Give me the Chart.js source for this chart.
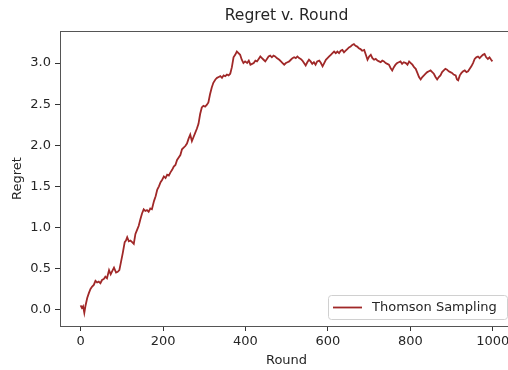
<!DOCTYPE html>
<html>
<head>
<meta charset="utf-8">
<script src="https://cdn.jsdelivr.net/npm/chart.js@4"></script>
<style>
  html, body { margin: 0; padding: 0; overflow: hidden; background: #fff; }
  #wrap { width: 520px; height: 370px; }
</style>
</head>
<body>
<div id="wrap"><canvas id="regretChart" width="520" height="370"></canvas></div>
<script>
// values
const rounds = [
  0, 3, 6, 9, 12, 16, 20, 24, 28, 32, 36, 40, 44, 48, 52, 56, 60, 64, 69, 73,
  77, 81, 86, 90, 94, 98, 102, 107, 110, 113, 117, 121, 125, 129, 133, 137, 141, 145, 149, 153,
  157, 161, 165, 169, 173, 178, 182, 186, 190, 194, 198, 202, 206, 210, 214, 218, 222, 226, 230, 234,
  238, 242, 246, 250, 254, 258, 262, 266, 270, 274, 278, 282, 286, 290, 294, 298, 302, 306, 310, 314,
  318, 322, 327, 331, 335, 339, 343, 347, 351, 355, 359, 363, 367, 371, 375, 379, 383, 387, 391, 395,
  399, 404, 408, 412, 416, 420, 424, 428, 432, 436, 440, 444, 448, 452, 456, 460, 464, 468, 472, 476,
  482, 486, 490, 494, 498, 502, 506, 510, 514, 518, 522, 526, 530, 534, 538, 542, 546, 550, 554, 558,
  562, 566, 570, 574, 579, 583, 587, 591, 595, 599, 603, 607, 611, 615, 619, 623, 627, 631, 635, 639,
  643, 647, 651, 655, 659, 663, 667, 671, 675, 679, 683, 688, 692, 696, 700, 704, 708, 712, 716, 720,
  724, 728, 732, 736, 740, 744, 748, 752, 756, 760, 764, 768, 772, 776, 780, 784, 789, 793, 797, 801,
  805, 809, 813, 817, 821, 825, 829, 833, 837, 841, 845, 849, 853, 857, 861, 865, 869, 873, 877, 881,
  885, 889, 893, 897, 901, 905, 910, 913, 916, 920, 924, 928, 932, 936, 940, 944, 948, 952, 956, 960,
  964, 968, 972, 976, 980, 984, 988, 992, 996, 999
];
const regret = [
  0.05, 0.02, 0.04, -0.04, 0.05, 0.14, 0.20, 0.25, 0.28, 0.30, 0.35, 0.33, 0.34, 0.32, 0.36, 0.37, 0.40, 0.38, 0.48, 0.43,
  0.47, 0.51, 0.45, 0.46, 0.48, 0.58, 0.68, 0.82, 0.84, 0.88, 0.83, 0.84, 0.82, 0.80, 0.92, 0.97, 1.02, 1.10, 1.17, 1.22,
  1.20, 1.21, 1.19, 1.23, 1.22, 1.32, 1.38, 1.46, 1.50, 1.55, 1.58, 1.62, 1.60, 1.64, 1.63, 1.67, 1.70, 1.74, 1.76, 1.82,
  1.85, 1.88, 1.95, 1.97, 1.99, 2.02, 2.08, 2.13, 2.05, 2.10, 2.15, 2.20, 2.26, 2.38, 2.46, 2.48, 2.47, 2.49, 2.52, 2.62,
  2.70, 2.76, 2.80, 2.82, 2.83, 2.84, 2.82, 2.85, 2.84, 2.86, 2.85, 2.87, 2.95, 3.07, 3.10, 3.14, 3.12, 3.10, 3.04, 3.00,
  3.02, 3.00, 3.03, 2.98, 2.99, 3.00, 3.03, 3.02, 3.05, 3.08, 3.06, 3.04, 3.02, 3.05, 3.08, 3.09, 3.07, 3.09, 3.08, 3.06,
  3.04, 3.02, 3.00, 2.98, 3.00, 3.01, 3.02, 3.04, 3.06, 3.07, 3.06, 3.08, 3.06, 3.05, 3.03, 3.00, 2.97, 3.01, 3.04, 3.02,
  2.99, 3.01, 2.98, 3.02, 3.03, 3.00, 2.96, 3.00, 3.04, 3.06, 3.08, 3.10, 3.12, 3.14, 3.12, 3.14, 3.12, 3.15, 3.16, 3.13,
  3.15, 3.17, 3.19, 3.20, 3.22, 3.23, 3.21, 3.20, 3.18, 3.17, 3.15, 3.16, 3.10, 3.04, 3.08, 3.10, 3.06, 3.04, 3.05, 3.03,
  3.02, 3.01, 3.03, 3.02, 3.00, 2.99, 2.98, 2.94, 2.91, 2.95, 2.98, 3.00, 3.01, 3.02, 2.99, 3.01, 3.00, 2.98, 3.02, 3.00,
  2.98, 2.95, 2.93, 2.88, 2.83, 2.80, 2.83, 2.85, 2.87, 2.89, 2.90, 2.91, 2.89, 2.87, 2.83, 2.80, 2.83, 2.85, 2.89, 2.91,
  2.93, 2.92, 2.90, 2.89, 2.88, 2.86, 2.85, 2.80, 2.79, 2.85, 2.88, 2.90, 2.91, 2.89, 2.90, 2.93, 2.96, 3.00, 3.05, 3.07,
  3.08, 3.06, 3.08, 3.10, 3.11, 3.07, 3.05, 3.07, 3.04, 3.02
];
const xTicks = [0, 200, 400, 600, 800, 1000];
const yTicks = [0.0, 0.5, 1.0, 1.5, 2.0, 2.5, 3.0];

const FONT = "'DejaVu Sans', sans-serif";
const TEXT = '#262626';
const SPINE = '#555';

// matplotlib-like frame, title and in-axes legend
const framePlugin = {
  id: 'frame',
  afterDraw(chart) {
    const { ctx, chartArea: a } = chart;
    ctx.save();
    ctx.strokeStyle = SPINE;
    ctx.lineWidth = 1;
    ctx.beginPath();
    ctx.moveTo(a.left, a.top + 0.5);
    ctx.lineTo(a.right, a.top + 0.5);
    ctx.lineTo(a.right, a.bottom);
    ctx.stroke();

    ctx.fillStyle = TEXT;
    ctx.font = `15.6px ${FONT}`;
    ctx.textAlign = 'center';
    ctx.textBaseline = 'middle';
    ctx.fillText('Regret v. Round', (a.left + a.right) / 2, 16);

    // legend box
    const ds = chart.data.datasets[0];
    const bx = 328, by = 295, bw = 179, bh = 24, r = 3;
    ctx.beginPath();
    ctx.roundRect(bx + 0.5, by + 0.5, bw, bh, r);
    ctx.fillStyle = 'rgba(255,255,255,0.8)';
    ctx.fill();
    ctx.strokeStyle = '#d0d0d0';
    ctx.stroke();
    ctx.strokeStyle = ds.borderColor;
    ctx.lineWidth = 1.8;
    ctx.beginPath();
    ctx.moveTo(333, by + 12.5);
    ctx.lineTo(362, by + 12.5);
    ctx.stroke();
    ctx.fillStyle = TEXT;
    ctx.font = `13px ${FONT}`;
    ctx.textAlign = 'left';
    ctx.fillText(ds.label, 372, by + 12.5);
    ctx.restore();
  }
};

new Chart(document.getElementById('regretChart'), {
  type: 'line',
  data: {
    datasets: [{
      label: 'Thomson Sampling',
      data: rounds.map((r, i) => ({ x: r, y: regret[i] })),
      borderColor: '#a02828',
      borderWidth: 1.8,
      pointRadius: 0,
      tension: 0,
      fill: false
    }]
  },
  options: {
    responsive: false,
    animation: false,
    layout: { padding: { top: 31, right: 7, left: 0, bottom: 0 } },
    plugins: {
      legend: { display: false },
      title: { display: false },
      tooltip: { enabled: false }
    },
    scales: {
      x: {
        type: 'linear',
        min: -50,
        max: 1049,
        afterFit: s => { s.height = 44; },
        afterBuildTicks: s => { s.ticks = xTicks.map(v => ({ value: v })); },
        grid: { drawOnChartArea: false, tickLength: 5, tickColor: '#333' },
        border: { color: SPINE, width: 1 },
        ticks: { color: TEXT, font: { family: FONT, size: 13 }, padding: 3, maxRotation: 0, callback: v => String(v) },
        title: { display: true, text: 'Round', color: TEXT, font: { family: FONT, size: 13 }, padding: { top: 0, bottom: 2 } }
      },
      y: {
        type: 'linear',
        min: -0.2,
        max: 3.39,
        afterFit: s => { s.width = 60; },
        afterBuildTicks: s => { s.ticks = yTicks.map(v => ({ value: v })); },
        grid: { drawOnChartArea: false, tickLength: 5, tickColor: '#333' },
        border: { color: SPINE, width: 1 },
        ticks: { color: TEXT, font: { family: FONT, size: 13 }, padding: 4, callback: v => v.toFixed(1) },
        title: { display: true, text: 'Regret', color: TEXT, font: { family: FONT, size: 13 }, padding: { top: 10, bottom: 0 } }
      }
    }
  },
  plugins: [framePlugin]
});
</script>
</body>
</html>
